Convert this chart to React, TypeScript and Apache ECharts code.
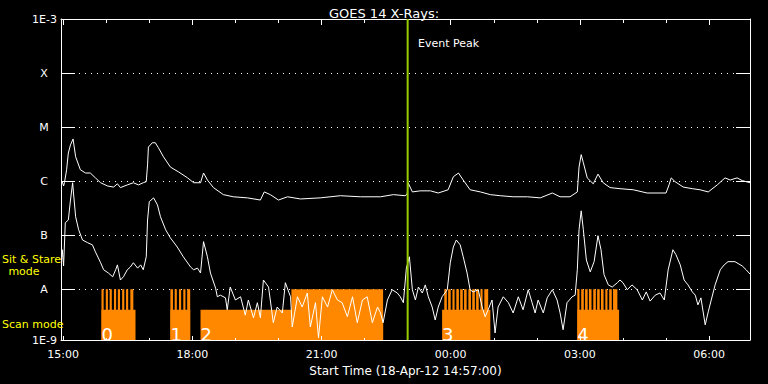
import React, { useEffect, useRef } from 'react';
import * as echarts from 'echarts';

// Time axis in decimal hours of 18-Apr-12 (values > 24 are on 19-Apr)
const X_MIN = 14.95; // 14:57
const X_MAX = 30.95; // 06:57
// Flux axis in log10(W/m^2)
const Y_MIN = -8.94;
const Y_MAX = -3;

const X_TICKS = [15, 18, 21, 24, 27, 30];
const X_TICK_LABELS = ['15:00', '18:00', '21:00', '00:00', '03:00', '06:00'];
const X_MINOR_TICKS = [16, 17, 19, 20, 22, 23, 25, 26, 28, 29];
const Y_TICKS = [Y_MIN, -8, -7, -6, -5, -4, -3];
const Y_TICK_LABELS = ['1E-9', 'A', 'B', 'C', 'M', 'X', '1E-3'];
const Y_GRID_LEVELS = [-8, -7, -6, -5, -4];

const EVENT_PEAK = 23.0;

// 1-8 Angstrom channel
const longChannel: [number, number][] = [
  [14.95, -6.01], [14.98, -6.01], [15.01, -6.09], [15.03, -6.03], [15.08, -5.79], [15.12, -5.48],
  [15.17, -5.33], [15.23, -5.22], [15.29, -5.55], [15.40, -5.79], [15.52, -5.85], [15.63, -5.85],
  [15.75, -5.94], [15.87, -6.03], [16.03, -6.09], [16.17, -6.11], [16.26, -6.05], [16.33, -6.12],
  [16.49, -6.07], [16.63, -6.03], [16.75, -6.07], [16.86, -6.03], [16.93, -6.01], [16.96, -5.70],
  [16.98, -5.37], [17.07, -5.29], [17.14, -5.29], [17.21, -5.38], [17.33, -5.55], [17.49, -5.74],
  [17.68, -5.83], [17.89, -5.94], [18.03, -6.03], [18.19, -6.03], [18.26, -5.85], [18.35, -5.98],
  [18.49, -6.12], [18.72, -6.25], [18.95, -6.29], [19.28, -6.31], [19.58, -6.35], [19.67, -6.20],
  [19.81, -6.25], [20.00, -6.35], [20.21, -6.29], [20.51, -6.33], [20.97, -6.31], [21.44, -6.27],
  [21.90, -6.29], [22.37, -6.29], [22.67, -6.25], [22.94, -6.27], [22.99, -6.24], [23.01, -6.03],
  [23.11, -6.20], [23.29, -6.18], [23.53, -6.18], [23.71, -6.22], [23.94, -6.16], [24.06, -5.92],
  [24.18, -5.85], [24.29, -5.98], [24.45, -6.16], [24.69, -6.20], [24.92, -6.25], [25.15, -6.27],
  [25.45, -6.29], [25.78, -6.29], [26.08, -6.31], [26.36, -6.22], [26.54, -6.29], [26.77, -6.29],
  [26.94, -6.20], [26.98, -5.74], [27.03, -5.51], [27.08, -5.66], [27.17, -5.94], [27.31, -6.05],
  [27.42, -5.87], [27.54, -6.03], [27.70, -6.12], [27.93, -6.14], [28.24, -6.16], [28.56, -6.22],
  [28.79, -6.22], [29.00, -6.22], [29.07, -6.07], [29.12, -5.94], [29.21, -6.01], [29.40, -6.11],
  [29.61, -6.14], [29.79, -6.16], [29.98, -6.20], [30.19, -6.07], [30.37, -5.94], [30.49, -5.98],
  [30.65, -5.94], [30.77, -5.99], [30.95, -6.03],
];

// 0.5-4 Angstrom channel
const shortChannel: [number, number][] = [
  [14.96, -7.49], [14.98, -7.27], [15.01, -7.57], [15.05, -6.77], [15.12, -6.72], [15.17, -6.35],
  [15.22, -6.03], [15.24, -6.22], [15.29, -6.66], [15.36, -6.90], [15.45, -7.09], [15.57, -7.14],
  [15.68, -7.18], [15.75, -7.31], [15.87, -7.51], [15.94, -7.64], [16.05, -7.70], [16.15, -7.77],
  [16.22, -7.64], [16.26, -7.55], [16.33, -7.83], [16.40, -7.77], [16.49, -7.64], [16.56, -7.59],
  [16.63, -7.51], [16.73, -7.61], [16.80, -7.55], [16.86, -7.64], [16.93, -7.40], [16.96, -6.72],
  [17.00, -6.38], [17.10, -6.31], [17.19, -6.44], [17.26, -6.66], [17.38, -6.90], [17.49, -7.05],
  [17.65, -7.22], [17.79, -7.40], [17.96, -7.59], [18.03, -7.64], [18.12, -7.61], [18.19, -7.70],
  [18.26, -7.12], [18.35, -7.40], [18.42, -7.70], [18.54, -7.98], [18.58, -8.14], [18.65, -8.11],
  [18.77, -8.16], [18.81, -8.38], [18.88, -7.96], [19.00, -8.20], [19.12, -8.14], [19.23, -8.48],
  [19.30, -8.20], [19.42, -8.53], [19.51, -8.25], [19.58, -8.53], [19.65, -7.83], [19.77, -7.96],
  [19.88, -8.62], [19.97, -8.33], [20.09, -8.44], [20.16, -7.88], [20.28, -8.14], [20.32, -8.70],
  [20.44, -8.14], [20.55, -8.33], [20.67, -8.07], [20.74, -8.70], [20.86, -8.25], [20.93, -8.90],
  [21.02, -8.14], [21.14, -8.33], [21.25, -8.01], [21.37, -8.20], [21.48, -8.25], [21.60, -8.51],
  [21.72, -8.14], [21.83, -8.62], [21.95, -8.20], [22.06, -8.14], [22.18, -8.62], [22.30, -8.33],
  [22.37, -8.44], [22.43, -8.62], [22.53, -8.20], [22.64, -8.01], [22.76, -8.07], [22.83, -8.14],
  [22.90, -8.25], [22.97, -7.61], [23.04, -7.40], [23.11, -8.01], [23.18, -8.20], [23.25, -7.96],
  [23.34, -8.07], [23.41, -7.92], [23.48, -8.14], [23.57, -8.33], [23.64, -8.57], [23.71, -8.33],
  [23.80, -8.14], [23.92, -8.01], [23.99, -7.51], [24.06, -7.22], [24.13, -7.09], [24.22, -7.18],
  [24.29, -7.40], [24.38, -7.70], [24.45, -8.01], [24.52, -8.05], [24.64, -8.01], [24.73, -8.33],
  [24.80, -8.51], [24.87, -8.38], [24.96, -8.20], [25.03, -8.81], [25.10, -8.33], [25.22, -8.14],
  [25.34, -8.25], [25.45, -8.44], [25.57, -8.14], [25.68, -8.38], [25.80, -8.01], [25.89, -8.25],
  [25.96, -8.44], [26.03, -8.20], [26.15, -8.44], [26.24, -8.16], [26.36, -8.01], [26.47, -8.20],
  [26.54, -8.44], [26.61, -8.75], [26.70, -8.25], [26.82, -8.14], [26.89, -8.11], [26.94, -7.64],
  [26.98, -6.90], [27.03, -6.55], [27.08, -6.90], [27.15, -7.46], [27.24, -7.68], [27.33, -7.49],
  [27.42, -7.01], [27.49, -7.27], [27.56, -7.73], [27.66, -7.92], [27.75, -7.96], [27.87, -7.88],
  [27.93, -7.83], [28.00, -7.88], [28.10, -8.01], [28.21, -7.92], [28.33, -8.01], [28.45, -8.20],
  [28.54, -8.05], [28.63, -8.22], [28.75, -8.11], [28.86, -8.07], [28.96, -8.20], [29.05, -7.64],
  [29.16, -7.27], [29.23, -7.36], [29.33, -7.55], [29.42, -7.83], [29.51, -7.92], [29.61, -8.05],
  [29.68, -8.11], [29.74, -8.29], [29.81, -8.16], [29.91, -8.66], [29.98, -8.42], [30.05, -8.20],
  [30.14, -7.92], [30.26, -7.64], [30.35, -7.55], [30.44, -7.49], [30.60, -7.49], [30.77, -7.57],
  [30.86, -7.64], [30.95, -7.72],
];

// Instrument mode bars
const SCAN_LEVEL = -8.38;
const STARE_LEVEL = -8;
const scanStart = [15.89, 17.49, 18.19, 23.80, 26.94];
const scanEnd = [16.68, 17.95, 22.43, 24.92, 27.91];
const scanLabels = ['0', '1', '2', '3', '4'];
const stareStart = [
  15.89, 15.99, 16.08, 16.18, 16.27, 16.37, 16.46, 16.56,
  17.49, 17.59, 17.69, 17.79, 17.88,
  20.30,
  23.85, 23.94, 24.04, 24.13, 24.22, 24.31, 24.41, 24.50, 24.59, 24.69, 24.78,
  26.94, 27.03, 27.12, 27.21, 27.31, 27.40, 27.49, 27.59, 27.68, 27.77,
];
const stareEnd = [
  15.94, 16.04, 16.13, 16.23, 16.32, 16.42, 16.51, 16.63,
  17.55, 17.64, 17.74, 17.84, 17.95,
  22.43,
  23.91, 24.00, 24.09, 24.19, 24.28, 24.37, 24.47, 24.56, 24.65, 24.74, 24.87,
  26.99, 27.09, 27.18, 27.27, 27.37, 27.46, 27.55, 27.64, 27.74, 27.87,
];

const FONT = 'DejaVu Sans';
const WHITE = '#ffffff';
const ORANGE = '#ff8800';
const YELLOW = '#ffff00';
const GREEN = '#99cc00';

export default function App() {
  const ref = useRef<HTMLDivElement>(null);

  useEffect(() => {
    if (!ref.current) return;
    const chart = echarts.init(ref.current, undefined, { renderer: 'svg' });

    const rectShape = (api: any) => {
      const a = api.coord([api.value(0), api.value(2)]);
      const b = api.coord([api.value(1), Y_MIN]);
      return { x: a[0], y: a[1], width: b[0] - a[0], height: b[1] - a[1] };
    };

    const xBase = {
      type: 'value',
      min: X_MIN,
      max: X_MAX,
      splitLine: { show: false },
      axisLabel: { show: false },
    };

    const yLabelFormatter = (v: number) => {
      const i = Y_TICKS.findIndex((t) => Math.abs(t - v) < 0.005);
      if (i < 0) return '';
      const s = Y_TICK_LABELS[i];
      return s.length === 1 ? `{l|${s}}` : `{n|${s}}`;
    };

    chart.setOption({
      animation: false,
      backgroundColor: '#000000',
      textStyle: { fontFamily: FONT },
      title: {
        text: 'GOES 14 X-Rays:',
        left: 'center',
        top: 2,
        textStyle: { color: WHITE, fontSize: 13, fontWeight: 'normal', fontFamily: FONT },
      },
      grid: { left: 61, top: 19, width: 689, height: 321, containLabel: false },
      xAxis: [
        {
          ...xBase,
          position: 'bottom',
          z: 5,
          axisLine: { show: true, lineStyle: { color: WHITE, width: 1 } },
          axisTick: { show: true, inside: true, length: 4, customValues: X_TICKS, lineStyle: { color: WHITE } },
          axisLabel: {
            show: true,
            customValues: X_TICKS,
            formatter: (v: number) => {
              const i = X_TICKS.findIndex((t) => Math.abs(t - v) < 0.01);
              return i >= 0 ? X_TICK_LABELS[i] : '';
            },
            color: WHITE,
            fontSize: 11,
            fontFamily: FONT,
            margin: 9,
          },
          name: 'Start Time (18-Apr-12 14:57:00)',
          nameLocation: 'middle',
          nameGap: 23,
          nameTextStyle: { color: WHITE, fontSize: 12, fontFamily: FONT },
        },
        {
          ...xBase,
          position: 'bottom',
          z: 5,
          axisLine: { show: false },
          axisTick: { show: true, inside: true, length: 2, customValues: X_MINOR_TICKS, lineStyle: { color: WHITE } },
        },
        {
          ...xBase,
          position: 'top',
          z: 5,
          axisLine: { show: true, lineStyle: { color: WHITE, width: 1 } },
          axisTick: { show: true, inside: true, length: 6, customValues: X_TICKS, lineStyle: { color: WHITE } },
        },
        {
          ...xBase,
          position: 'top',
          z: 5,
          axisLine: { show: false },
          axisTick: { show: true, inside: true, length: 4, customValues: X_MINOR_TICKS, lineStyle: { color: WHITE } },
        },
      ],
      yAxis: [
        {
          type: 'value',
          position: 'left',
          min: Y_MIN,
          max: Y_MAX,
          axisLine: { show: true, lineStyle: { color: WHITE, width: 1 } },
          axisTick: { show: true, inside: true, length: 14, customValues: Y_GRID_LEVELS, lineStyle: { color: WHITE } },
          axisLabel: {
            show: true,
            customValues: Y_TICKS,
            formatter: yLabelFormatter,
            align: 'right',
            margin: 4,
            color: WHITE,
            fontSize: 11,
            fontFamily: FONT,
            rich: {
              l: { width: 26, align: 'center', color: WHITE, fontSize: 11, fontFamily: FONT },
              n: { color: WHITE, fontSize: 11, fontFamily: FONT },
            },
          },
          splitLine: { show: true, lineStyle: { color: WHITE, width: 1, type: [1, 5] } },
        },
        {
          type: 'value',
          position: 'right',
          min: Y_MIN,
          max: Y_MAX,
          axisLine: { show: true, lineStyle: { color: WHITE, width: 1 } },
          axisTick: { show: true, inside: true, length: 14, customValues: Y_GRID_LEVELS, lineStyle: { color: WHITE } },
          axisLabel: { show: false },
          splitLine: { show: false },
        },
      ],
      series: [
        {
          name: 'Sit & Stare',
          type: 'custom',
          xAxisIndex: 0,
          yAxisIndex: 0,
          z: 2,
          encode: { x: [0, 1], y: 2 },
          data: stareStart.map((s, i) => [s, stareEnd[i], STARE_LEVEL]),
          renderItem: (_params: any, api: any) => ({
            type: 'rect',
            shape: rectShape(api),
            style: { fill: ORANGE },
          }),
        },
        {
          name: 'Scan',
          type: 'custom',
          xAxisIndex: 0,
          yAxisIndex: 0,
          z: 2,
          encode: { x: [0, 1], y: 2 },
          data: scanStart.map((s, i) => [s, scanEnd[i], SCAN_LEVEL]),
          renderItem: (params: any, api: any) => {
            const shape = rectShape(api);
            return {
              type: 'group',
              children: [
                { type: 'rect', shape, style: { fill: ORANGE } },
                {
                  type: 'text',
                  x: shape.x,
                  y: shape.y + shape.height - 6,
                  style: {
                    text: scanLabels[params.dataIndex],
                    fill: WHITE,
                    fontSize: 18,
                    fontFamily: FONT,
                    fontWeight: 'normal',
                    align: 'left',
                    verticalAlign: 'middle',
                  },
                },
              ],
            };
          },
        },
        {
          name: '1-8 A',
          type: 'line',
          xAxisIndex: 0,
          yAxisIndex: 0,
          z: 3,
          showSymbol: false,
          symbol: 'none',
          lineStyle: { color: WHITE, width: 1 },
          data: longChannel,
        },
        {
          name: '0.5-4 A',
          type: 'line',
          xAxisIndex: 0,
          yAxisIndex: 0,
          z: 3,
          showSymbol: false,
          symbol: 'none',
          lineStyle: { color: WHITE, width: 1 },
          data: shortChannel,
        },
        {
          name: 'Event Peak',
          type: 'line',
          xAxisIndex: 0,
          yAxisIndex: 0,
          z: 6,
          showSymbol: false,
          symbol: 'none',
          lineStyle: { color: GREEN, width: 2 },
          data: [[EVENT_PEAK, Y_MIN], [EVENT_PEAK, Y_MAX]],
        },
      ],
      graphic: [
        {
          type: 'text',
          x: 418,
          y: 43,
          z: 10,
          style: { text: 'Event Peak', fill: WHITE, fontSize: 11, fontFamily: FONT, align: 'left', verticalAlign: 'middle' },
        },
        {
          type: 'text',
          x: 2,
          y: 259,
          z: 10,
          style: { text: 'Sit & Stare', fill: YELLOW, fontSize: 11, fontFamily: FONT, align: 'left', verticalAlign: 'middle' },
        },
        {
          type: 'text',
          x: 24,
          y: 271,
          z: 10,
          style: { text: 'mode', fill: YELLOW, fontSize: 11, fontFamily: FONT, align: 'center', verticalAlign: 'middle' },
        },
        {
          type: 'text',
          x: 2,
          y: 324,
          z: 10,
          style: { text: 'Scan mode', fill: YELLOW, fontSize: 11, fontFamily: FONT, align: 'left', verticalAlign: 'middle' },
        },
      ],
    });

    return () => chart.dispose();
  }, []);

  return (
    <div
      ref={ref}
      style={{ position: 'fixed', left: 0, top: 0, width: 768, height: 384, background: '#000000' }}
    />
  );
}
